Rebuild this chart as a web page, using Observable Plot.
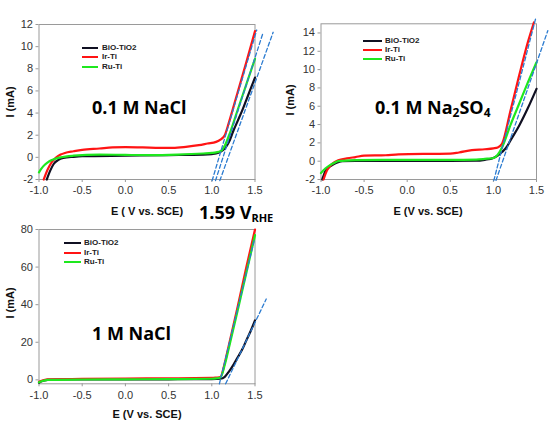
<!DOCTYPE html>
<html><head><meta charset="utf-8">
<script src="https://cdn.jsdelivr.net/npm/d3@7"></script>
<script src="https://cdn.jsdelivr.net/npm/@observablehq/plot@0.6"></script>
<style>
body{margin:0;background:#fff;}
#wrap{position:relative;width:549px;height:423px;overflow:hidden;background:#fff;font-family:"Liberation Sans",Arial,sans-serif;}
.panel{position:absolute;}
.lab{position:absolute;white-space:nowrap;font-weight:bold;color:#111;line-height:1;}
.axl{font-size:11px;transform:translate(-50%,-50%);}
.yl{font-size:11px;transform:translate(-50%,-50%) rotate(-90deg);}
.big{font-family:"Open Sans","Noto Sans",sans-serif;font-size:18px;transform:translateY(-50%);color:#000;}
.big sub{font-size:12px;vertical-align:-3px;line-height:0;}
.sw{position:absolute;height:2.5px;}
.lg{position:absolute;font-size:8px;font-weight:bold;color:#222;line-height:1;transform:translateY(-50%);}
</style></head><body><div id="wrap"></div>
<script>
// ---------- data ----------
const xTicks = [-1.0, -0.5, 0.0, 0.5, 1.0, 1.5];
const seriesNames = ["BiO-TiO2", "Ir-Ti", "Ru-Ti"];
const seriesColors = ["#101022", "#ff1414", "#1ee81e"];
const tangentColor = "#2b7bd0";

// Panel A: 0.1 M NaCl
const yTicksA = [-2, 0, 2, 4, 6, 8, 10, 12];
const a_black_E = [-0.91,-0.87,-0.83,-0.78,-0.72,-0.6,-0.5,0,0.5,0.9,1.0,1.05,1.1,1.15,1.2,1.25,1.3,1.35,1.4,1.45,1.5];
const a_black_I = [-2,-1.2,-0.6,-0.25,-0.05,0.05,0.1,0.15,0.2,0.25,0.3,0.35,0.5,0.8,1.4,2.4,3.3,4.2,5.2,6.2,7.2];
const a_red_E = [-0.945,-0.9,-0.85,-0.8,-0.75,-0.7,-0.6,-0.5,-0.3,-0.15,0,0.2,0.4,0.55,0.7,0.85,0.95,1.05,1.1,1.15,1.2,1.3,1.4,1.5];
const a_red_I = [-2,-1.1,-0.4,0.0,0.25,0.4,0.55,0.68,0.8,0.9,0.92,0.9,0.86,0.86,0.95,1.1,1.25,1.4,1.6,2.0,3.2,5.9,8.6,11.4];
const a_green_E = [-1.0,-0.97,-0.93,-0.88,-0.82,-0.75,-0.6,-0.3,0,0.3,0.6,0.9,1.0,1.05,1.1,1.14,1.2,1.3,1.4,1.5];
const a_green_I = [-1.35,-1.0,-0.65,-0.35,-0.15,0.0,0.15,0.25,0.22,0.2,0.25,0.35,0.4,0.45,0.55,0.9,2.0,4.3,6.6,8.9];
const a_tan1_E = [1.004, 1.52], a_tan1_I = [-2.1, 11.5];
const a_tan2_E = [1.043, 1.595], a_tan2_I = [-2.1, 11.3];
const a_tan3_E = [1.093, 1.71], a_tan3_I = [-2.1, 11.3];

// Panel B: 0.1 M Na2SO4
const yTicksB = [-2, 0, 2, 4, 6, 8, 10, 12, 14];
const b_black_E = [-0.985,-0.95,-0.9,-0.85,-0.8,-0.75,-0.6,-0.5,0,0.5,0.8,0.9,1.0,1.05,1.1,1.15,1.2,1.3,1.4,1.5];
const b_black_I = [-2,-1.1,-0.6,-0.3,-0.1,0.0,0.04,0.04,0.04,0.04,0.05,0.15,0.35,0.6,1.0,1.5,2.3,3.9,5.8,7.9];
const b_red_E = [-0.97,-0.93,-0.9,-0.87,-0.8,-0.7,-0.6,-0.5,-0.25,-0.1,0.3,0.5,0.6,0.75,0.9,1.0,1.05,1.1,1.2,1.3,1.4,1.47];
const b_red_I = [-2,-1.0,-0.6,-0.3,0.1,0.3,0.45,0.6,0.65,0.75,0.8,0.82,0.95,1.2,1.3,1.4,1.5,1.9,5.6,9.4,13.0,15.15];
const b_green_E = [-1.0,-0.95,-0.9,-0.85,-0.8,-0.6,-0.3,0,0.5,0.8,0.9,1.0,1.05,1.1,1.2,1.3,1.4,1.5];
const b_green_I = [-1.3,-0.8,-0.45,-0.2,0.0,0.12,0.15,0.15,0.15,0.18,0.25,0.35,0.7,1.5,4.0,6.3,8.6,10.8];
const b_tan1_E = [1.005, 1.488], b_tan1_I = [-2.1, 15.5];
const b_tan2_E = [1.03, 1.631], b_tan2_I = [-2.1, 14.25];

// Panel C: 1 M NaCl
const yTicksC = [0, 20, 40, 60, 80];
const c_black_E = [-1.0,-0.97,-0.9,-0.8,-0.5,0,0.5,1.0,1.1,1.15,1.2,1.25,1.3,1.35,1.4,1.45,1.5];
const c_black_I = [-1.5,-0.8,0,0.2,0.2,0.25,0.3,0.4,0.6,1.6,4.5,8,12,16,21,26,31.6];
const c_red_E = [-1.0,-0.95,-0.9,-0.5,0,0.5,1.0,1.05,1.1,1.15,1.2,1.3,1.4,1.5];
const c_red_I = [-1.0,-0.2,0.3,0.5,0.7,0.8,1.0,1.2,1.5,9,19,39,60,80];
const c_green_E = [-1.0,-0.95,-0.9,-0.5,0,0.5,1.0,1.05,1.1,1.15,1.2,1.3,1.4,1.5];
const c_green_I = [-1.3,-0.5,0.0,0.2,0.3,0.4,0.6,0.8,1.3,8,17.5,37,57,77];
const c_tan1_E = [1.088, 1.495], c_tan1_I = [-2.1, 75];
const c_tan2_E = [1.16, 1.63], c_tan2_I = [-2.1, 43];

// ---------- helpers ----------
const zip = (E, I) => E.map((e, i) => ({E: e, I: I[i]}));
const wrap = document.getElementById("wrap");

function panel(cfg) {
  const {left, top, width, height, ml, mt, pw, ph, yDomain, yTicks, series, tangents} = cfg;
  const marks = [
    Plot.frame({stroke: "#9a9a9a"}),
    Plot.axisX(xTicks, {tickSize: 3, tickPadding: 4, tickFormat: d => d.toFixed(1), label: null, stroke: "#999", fill: "#333", fontSize: 11}),
    Plot.axisY(yTicks, {tickSize: 3, tickPadding: 3, tickFormat: d => String(d), label: null, stroke: "#999", fill: "#333", fontSize: 11}),
  ];
  series.forEach((s, k) => marks.push(Plot.line(zip(s[0], s[1]), {x: "E", y: "I", stroke: seriesColors[k], strokeWidth: 2.2, curve: "monotone-x"})));
  tangents.forEach(t => marks.push(Plot.line(zip(t[0], t[1]), {x: "E", y: "I", stroke: tangentColor, strokeWidth: 1.3, strokeDasharray: "4,2.5"})));
  const svg = Plot.plot({
    width, height,
    marginLeft: ml, marginTop: mt, marginRight: width - ml - pw, marginBottom: height - mt - ph,
    x: {domain: [-1, 1.5], label: null},
    y: {domain: yDomain, label: null},
    style: {fontFamily: "'Liberation Sans', Arial, sans-serif", fontSize: "11px", background: "transparent", overflow: "visible", color: "#333"},
    marks
  });
  svg.classList.add("panel");
  svg.style.left = left + "px";
  svg.style.top = top + "px";
  wrap.appendChild(svg);
}

function label(html, cls, x, y) {
  const d = document.createElement("div");
  d.className = "lab " + cls;
  d.innerHTML = html;
  d.style.left = x + "px";
  d.style.top = y + "px";
  wrap.appendChild(d);
}

function legend(x0, x1, tx, ys) {
  seriesNames.forEach((n, k) => {
    const s = document.createElement("div");
    s.className = "sw";
    s.style.left = x0 + "px";
    s.style.width = (x1 - x0) + "px";
    s.style.top = (ys[k] - 1.25) + "px";
    s.style.background = seriesColors[k];
    wrap.appendChild(s);
    const t = document.createElement("div");
    t.className = "lg";
    t.textContent = n;
    t.style.left = tx + "px";
    t.style.top = ys[k] + "px";
    wrap.appendChild(t);
  });
}

// ---------- panels ----------
panel({left: 0, top: 0, width: 280, height: 200, ml: 38.5, mt: 24, pw: 216, ph: 155,
  yDomain: [-2, 12], yTicks: yTicksA,
  series: [[a_black_E, a_black_I], [a_red_E, a_red_I], [a_green_E, a_green_I]],
  tangents: [[a_tan1_E, a_tan1_I], [a_tan2_E, a_tan2_I], [a_tan3_E, a_tan3_I]]});

panel({left: 280, top: 0, width: 269, height: 200, ml: 40.5, mt: 23.3, pw: 215.5, ph: 155.7,
  yDomain: [-2, 15], yTicks: yTicksB,
  series: [[b_black_E, b_black_I], [b_red_E, b_red_I], [b_green_E, b_green_I]],
  tangents: [[b_tan1_E, b_tan1_I], [b_tan2_E, b_tan2_I]]});

panel({left: 0, top: 210, width: 280, height: 200, ml: 38.5, mt: 19, pw: 216, ph: 154.3,
  yDomain: [-2.1, 80], yTicks: yTicksC,
  series: [[c_black_E, c_black_I], [c_red_E, c_red_I], [c_green_E, c_green_I]],
  tangents: [[c_tan1_E, c_tan1_I], [c_tan2_E, c_tan2_I]]});

// ---------- text ----------
label("I (mA)", "yl", 10, 102);
label("I (mA)", "yl", 290, 100);
label("I (mA)", "yl", 10, 303);
label("E ( V vs. SCE)", "axl", 147, 211);
label("E (V vs. SCE)", "axl", 428, 211);
label("E (V vs. SCE)", "axl", 147, 414);
label("0.1 M NaCl", "big", 92, 107);
label("0.1 M Na<sub>2</sub>SO<sub>4</sub>", "big", 375, 107);
label("1 M NaCl", "big", 92, 333);
label("1.59 V<sub style='font-size:11px;vertical-align:-3px'>RHE</sub>", "big", 199, 212);

legend(82, 98, 102, [48, 57, 67]);
legend(363, 382, 385, [41, 50, 59]);
legend(64, 81, 84, [243, 253, 262]);
</script></body></html>
